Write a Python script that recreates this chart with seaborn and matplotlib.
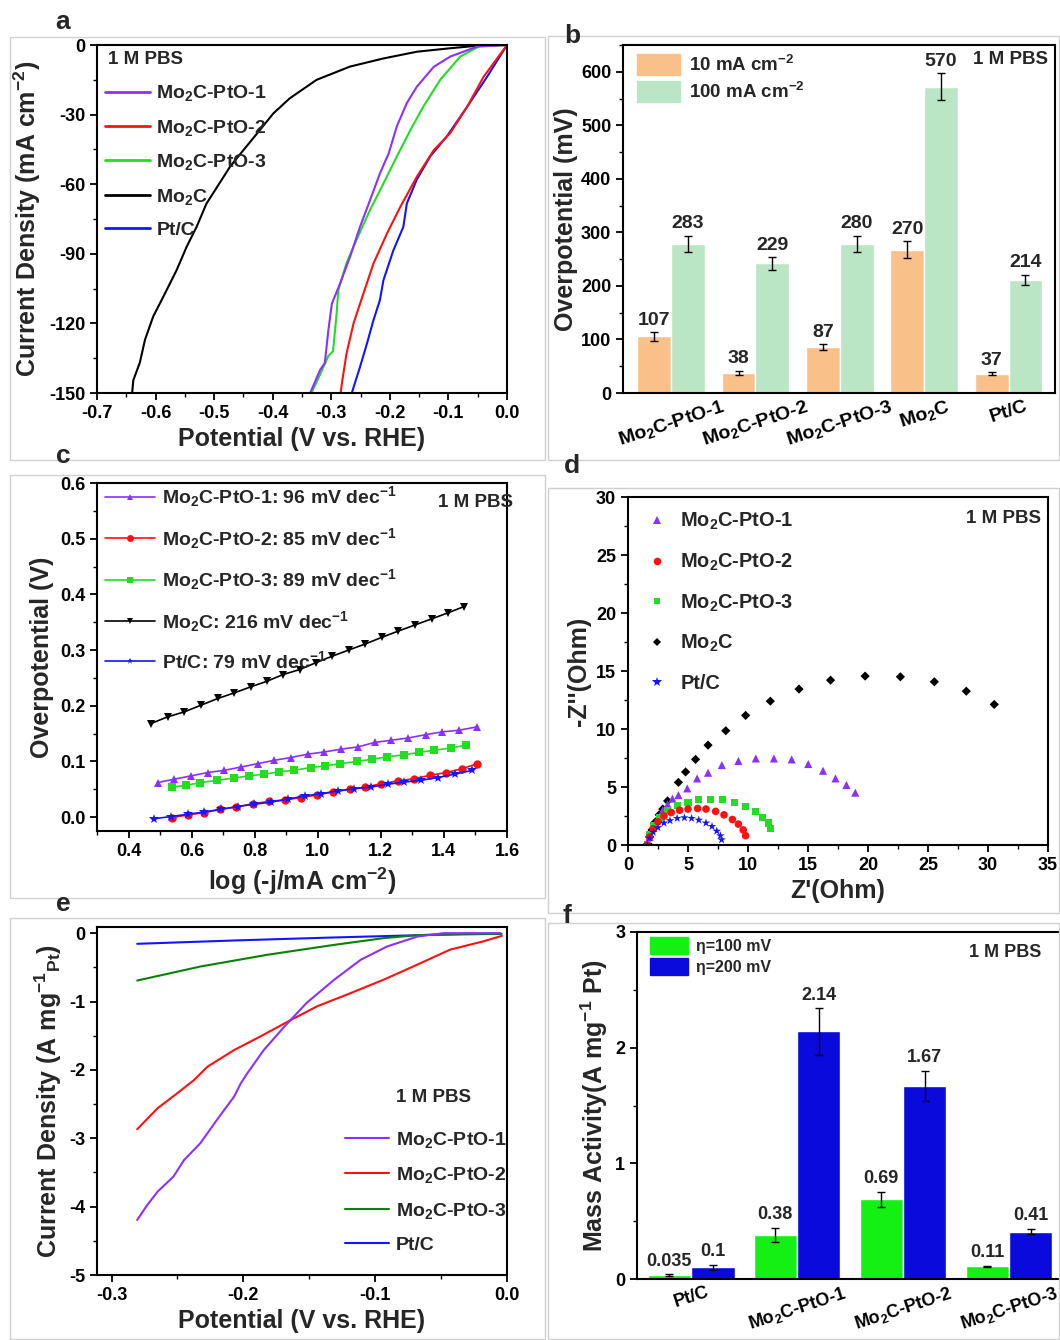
import matplotlib
matplotlib.use("Agg")
import pandas as pd
import matplotlib.pyplot as plt
import seaborn as sns
from matplotlib.lines import Line2D
from matplotlib.patches import Patch, Rectangle
from matplotlib.ticker import MultipleLocator

# %% [Data]
# (a) LSV, current density in mA cm-2
a_mo2c_v = [0.0, -0.05, -0.097, -0.154, -0.211, -0.268, -0.325, -0.371, -0.399, -0.422, -0.450, -0.473,
            -0.502, -0.513, -0.530, -0.547, -0.564, -0.587, -0.604, -0.618, -0.627, -0.638, -0.640]
a_mo2c_j = [0.0, -0.3, -1.4, -2.9, -5.8, -9.3, -15.0, -23.0, -29.5, -36.7, -45.3, -52.5,
            -64.0, -68.3, -78.4, -87.0, -97.0, -108.6, -117.0, -127.0, -137.0, -144.5, -150.0]
a_pto1_v = [0.0, -0.051, -0.097, -0.125, -0.154, -0.171, -0.188, -0.202, -0.217, -0.234, -0.251, -0.268,
            -0.285, -0.299, -0.305, -0.311, -0.319, -0.336]
a_pto1_j = [0.0, -0.7, -5.0, -9.4, -18.0, -25.0, -35.0, -46.7, -55.4, -67.0, -78.4, -91.3,
            -102.8, -111.5, -123.0, -137.0, -140.0, -150.0]
a_pto3_v = [0.0, -0.046, -0.080, -0.114, -0.143, -0.165, -0.188, -0.211, -0.234, -0.257, -0.274, -0.288,
            -0.291, -0.297, -0.305, -0.319, -0.334]
a_pto3_j = [0.0, -0.4, -5.0, -15.0, -26.6, -36.7, -48.0, -59.7, -71.2, -84.0, -94.0, -105.7,
            -116.0, -132.0, -134.0, -142.0, -150.0]
a_pto2_v = [0.0, -0.040, -0.068, -0.097, -0.125, -0.154, -0.182, -0.205, -0.228, -0.245, -0.262, -0.274,
            -0.282, -0.284]
a_pto2_j = [0.0, -13.7, -26.6, -38.0, -45.3, -56.8, -69.7, -81.3, -94.2, -107.0, -120.0, -133.0,
            -146.0, -150.0]
a_ptc_v = [0.0, -0.034, -0.068, -0.103, -0.131, -0.154, -0.171, -0.177, -0.194, -0.211, -0.217, -0.228,
           -0.239, -0.251, -0.265]
a_ptc_j = [0.0, -13.7, -26.6, -39.5, -48.0, -58.0, -68.3, -78.4, -88.5, -101.4, -110.0, -118.6,
           -128.6, -138.8, -150.0]

# (b) overpotentials (mV)
b_samples = ['Mo$_2$C-PtO-1', 'Mo$_2$C-PtO-2', 'Mo$_2$C-PtO-3', 'Mo$_2$C', 'Pt/C']
b_eta10 = [106, 38, 86, 268, 36]
b_eta10_err = [8, 4, 5, 15, 3]
b_eta10_text = ['107', '38', '87', '270', '37']
b_eta100 = [279, 242, 279, 572, 211]
b_eta100_err = [15, 12, 15, 25, 10]
b_eta100_text = ['283', '229', '280', '570', '214']

# (c) Tafel
c_pto1_x = [0.492, 0.545, 0.598, 0.651, 0.704, 0.757, 0.810, 0.862, 0.915, 0.968, 1.021, 1.074, 1.127,
            1.180, 1.233, 1.286, 1.342, 1.395, 1.448, 1.504]
c_pto1_y = [0.062, 0.068, 0.074, 0.080, 0.084, 0.090, 0.096, 0.102, 0.107, 0.113, 0.117, 0.122, 0.126,
            0.134, 0.138, 0.142, 0.148, 0.153, 0.156, 0.162]
c_pto2_x = [0.538, 0.588, 0.640, 0.691, 0.742, 0.794, 0.844, 0.895, 0.947, 0.998, 1.049, 1.101, 1.151,
            1.202, 1.254, 1.305, 1.356, 1.407, 1.458, 1.506]
c_pto2_y = [-0.001, 0.004, 0.008, 0.014, 0.018, 0.024, 0.028, 0.031, 0.035, 0.040, 0.045, 0.050, 0.054,
            0.060, 0.065, 0.069, 0.075, 0.080, 0.087, 0.096]
c_pto3_x = [0.538, 0.582, 0.628, 0.680, 0.733, 0.781, 0.829, 0.876, 0.924, 0.977, 1.024, 1.072, 1.125,
            1.172, 1.220, 1.273, 1.321, 1.368, 1.421, 1.469]
c_pto3_y = [0.054, 0.057, 0.062, 0.066, 0.070, 0.074, 0.077, 0.081, 0.084, 0.089, 0.092, 0.096, 0.100,
            0.104, 0.108, 0.112, 0.116, 0.120, 0.124, 0.129]
c_mo2c_x = [0.471, 0.524, 0.577, 0.630, 0.683, 0.735, 0.788, 0.839, 0.890, 0.943, 0.993, 1.046, 1.098,
            1.151, 1.204, 1.255, 1.308, 1.361, 1.414, 1.463]
c_mo2c_y = [0.168, 0.180, 0.189, 0.201, 0.213, 0.223, 0.234, 0.244, 0.256, 0.265, 0.277, 0.289, 0.300,
            0.311, 0.323, 0.334, 0.345, 0.356, 0.367, 0.378]
c_ptc_x = [0.481, 0.534, 0.587, 0.640, 0.693, 0.746, 0.799, 0.852, 0.905, 0.958, 1.011, 1.063, 1.116,
           1.169, 1.222, 1.275, 1.328, 1.381, 1.434, 1.490]
c_ptc_y = [-0.003, 0.001, 0.005, 0.009, 0.014, 0.019, 0.023, 0.027, 0.032, 0.038, 0.042, 0.047, 0.051,
           0.054, 0.059, 0.063, 0.066, 0.071, 0.077, 0.084]

# (d) Nyquist (Ohm)
d_mo2c_x = [1.65, 1.8, 2.0, 2.3, 2.6, 2.9, 3.3, 4.2, 4.8, 5.63, 6.67, 8.15, 9.80, 11.86, 14.25, 16.88,
            19.76, 22.70, 25.53, 28.19, 30.52]
d_mo2c_y = [0.1, 0.7, 1.3, 2.0, 2.6, 3.1, 3.8, 5.4, 6.3, 7.38, 8.61, 9.85, 11.17, 12.40, 13.44, 14.21,
            14.56, 14.50, 14.07, 13.26, 12.12]
d_pto1_x = [1.6, 1.8, 2.1, 2.5, 2.9, 3.3, 3.7, 4.2, 4.94, 5.76, 6.67, 7.82, 9.20, 10.65, 12.16, 13.64,
            15.02, 16.25, 17.29, 18.20, 18.94]
d_pto1_y = [0.0, 0.7, 1.5, 2.3, 3.0, 3.5, 4.0, 4.3, 4.88, 5.74, 6.23, 6.89, 7.24, 7.46, 7.46, 7.38,
            6.98, 6.40, 5.74, 5.17, 4.51]
d_pto3_x = [1.6, 1.8, 2.1, 2.6, 3.3, 4.1, 5.0, 5.9, 6.9, 7.9, 8.9, 9.8, 10.6, 11.2, 11.7, 11.9]
d_pto3_y = [0.0, 0.9, 1.7, 2.4, 3.0, 3.4, 3.7, 3.9, 3.95, 3.9, 3.7, 3.3, 2.9, 2.4, 1.9, 1.4]
d_pto2_x = [1.6, 1.8, 2.1, 2.5, 3.0, 3.6, 4.3, 5.0, 5.8, 6.5, 7.3, 8.0, 8.7, 9.2, 9.6, 9.8]
d_pto2_y = [0.0, 0.7, 1.4, 2.0, 2.5, 2.8, 3.0, 3.1, 3.15, 3.1, 2.9, 2.6, 2.2, 1.8, 1.3, 0.8]
d_ptc_x = [1.6, 1.8, 2.1, 2.5, 3.0, 3.5, 4.1, 4.7, 5.3, 5.9, 6.5, 7.0, 7.4, 7.7, 7.8]
d_ptc_y = [0.0, 0.6, 1.1, 1.5, 1.9, 2.1, 2.3, 2.35, 2.3, 2.15, 1.9, 1.6, 1.2, 0.8, 0.45]

# (e) mass-normalised LSV (A mg-1 Pt)
e_ptc_v = [-0.2805, -0.207, -0.131, -0.056, -0.005]
e_ptc_j = [-0.156, -0.107, -0.063, -0.024, -0.01]
e_pto3_v = [-0.2805, -0.2325, -0.182, -0.131, -0.0935, -0.068, -0.030, -0.004]
e_pto3_j = [-0.693, -0.488, -0.317, -0.171, -0.073, -0.029, -0.01, -0.01]
e_pto2_v = [-0.2805, -0.265, -0.250, -0.2375, -0.227, -0.207, -0.187, -0.164, -0.144, -0.119, -0.0935,
            -0.068, -0.043, -0.018, -0.004]
e_pto2_j = [-2.868, -2.56, -2.34, -2.15, -1.95, -1.71, -1.51, -1.27, -1.07, -0.88, -0.68, -0.46, -0.24,
            -0.12, -0.04]
e_pto1_v = [-0.2805, -0.273, -0.265, -0.253, -0.245, -0.2325, -0.220, -0.207, -0.202, -0.197, -0.1845,
            -0.169, -0.152, -0.131, -0.111, -0.091, -0.068, -0.048, -0.005]
e_pto1_j = [-4.195, -3.98, -3.78, -3.56, -3.32, -3.07, -2.73, -2.39, -2.20, -2.05, -1.71, -1.37, -1.02,
            -0.68, -0.39, -0.195, -0.05, 0.0, 0.0]

# (f) mass activity
f_samples = ['Pt/C', 'Mo$_2$C-PtO-1', 'Mo$_2$C-PtO-2', 'Mo$_2$C-PtO-3']
f_eta100 = [0.035, 0.38, 0.69, 0.11]
f_eta100_err = [0.005, 0.06, 0.065, 0.005]
f_eta100_text = ['0.035', '0.38', '0.69', '0.11']
f_eta200 = [0.1, 2.14, 1.67, 0.41]
f_eta200_err = [0.02, 0.2, 0.13, 0.025]
f_eta200_text = ['0.1', '2.14', '1.67', '0.41']

# %% [Style]
sns.set_style("ticks")
plt.rcParams.update({
    'font.family': ['Liberation Sans', 'DejaVu Sans'],
    'font.weight': 'bold',
    'axes.labelweight': 'bold',
    'axes.unicode_minus': False,
    'mathtext.fontset': 'custom',
    'mathtext.rm': 'Liberation Sans:bold',
    'mathtext.it': 'Liberation Sans:bold:italic',
    'mathtext.bf': 'Liberation Sans:bold',
    'mathtext.default': 'rm',
    'axes.linewidth': 1.5,
    'axes.edgecolor': 'black',
    'xtick.major.width': 1.3, 'ytick.major.width': 1.3,
    'xtick.minor.width': 1.0, 'ytick.minor.width': 1.0,
    'xtick.major.size': 5, 'ytick.major.size': 5,
    'xtick.minor.size': 3, 'ytick.minor.size': 3,
    'xtick.color': 'black', 'ytick.color': 'black',
    'xtick.labelsize': 13, 'ytick.labelsize': 13,
})

PURPLE = '#8B30FF'
RED = '#FF1010'
GREEN = '#22DD22'
DKGREEN = '#0A800A'
BLACK = '#000000'
BLUE = '#1414FF'

W, H = 1060, 1340
fig = plt.figure(figsize=(W / 100, H / 100), dpi=100)


def px_axes(l, t, r, b):
    return fig.add_axes([l / W, 1 - b / H, (r - l) / W, (b - t) / H])


# light panel frames
for (l, t, r, b) in [(10, 37, 545, 460), (548, 36, 1059, 460), (10, 475, 545, 898),
                     (548, 488, 1059, 913), (10, 918, 545, 1339), (548, 923, 1059, 1339)]:
    fig.add_artist(Rectangle((l / W, 1 - b / H), (r - l) / W, (b - t) / H, transform=fig.transFigure,
                             fill=False, edgecolor='#d0d0d0', lw=1))

for letter, (x, y) in zip('abcdef', [(63, 22), (572, 36), (63, 456), (572, 466), (63, 904), (567, 916)]):
    fig.text(x / W, 1 - y / H, letter, fontsize=19, fontweight='bold', ha='center', va='center')

LBL = 18
LEG = 14

# %% [a: LSV]
ax = px_axes(97, 45, 507, 393)
for v, j, c in [(a_mo2c_v, a_mo2c_j, BLACK), (a_pto3_v, a_pto3_j, GREEN), (a_pto1_v, a_pto1_j, PURPLE),
                (a_ptc_v, a_ptc_j, BLUE), (a_pto2_v, a_pto2_j, RED)]:
    sns.lineplot(x=v, y=j, sort=False, estimator=None, color=c, lw=1.5, ax=ax)
ax.set_xlim(-0.7, 0.0)
ax.set_ylim(-150, 0)
ax.xaxis.set_major_locator(MultipleLocator(0.1))
ax.xaxis.set_minor_locator(MultipleLocator(0.05))
ax.yaxis.set_major_locator(MultipleLocator(30))
ax.yaxis.set_minor_locator(MultipleLocator(15))
ax.set_xlabel('Potential (V vs. RHE)', fontsize=LBL)
ax.set_ylabel('Current Density (mA cm$^{-2}$)', fontsize=LBL)
ax.text(0.027, 0.957, '1 M PBS', transform=ax.transAxes, fontsize=13.5, va='center')
handles = [Line2D([], [], color=c, lw=2) for c in [PURPLE, RED, GREEN, BLACK, BLUE]]
ax.legend(handles, b_samples, loc='upper left', bbox_to_anchor=(0.0, 0.912), frameon=False,
          fontsize=LEG, handlelength=2.3, handletextpad=0.35, labelspacing=0.74, borderaxespad=0)

# %% [b: overpotential bars]
ax = px_axes(623, 45, 1055, 393)
df_b = pd.DataFrame({
    'sample': b_samples * 2,
    'value': b_eta10 + b_eta100,
    'current': ['10'] * len(b_samples) + ['100'] * len(b_samples),
})
ORANGE_B, GREEN_B = '#F9C08A', '#BBE6C6'
sns.barplot(data=df_b, x='sample', y='value', hue='current', palette=[ORANGE_B, GREEN_B], width=0.8,
            errorbar=None, saturation=1, legend=False, ax=ax)
for cont, errs, texts in [(ax.containers[0], b_eta10_err, b_eta10_text),
                          (ax.containers[1], b_eta100_err, b_eta100_text)]:
    for bar, e, t in zip(cont, errs, texts):
        cx = bar.get_x() + bar.get_width() / 2
        h = bar.get_height()
        ax.errorbar(cx, h, yerr=e, color='black', lw=1, capsize=3, capthick=1)
        ax.text(cx, h + e + 6, t, ha='center', va='bottom', fontsize=14)
ax.set_xlim(-0.57, 4.55)
ax.set_ylim(0, 650)
ax.yaxis.set_major_locator(MultipleLocator(100))
ax.yaxis.set_minor_locator(MultipleLocator(50))
ax.set_xlabel('')
ax.set_ylabel('Overpotential (mV)', fontsize=LBL, labelpad=2)
ax.tick_params(axis='x', length=0, pad=3)
plt.setp(ax.get_xticklabels(), rotation=18, ha='center', fontsize=14)
ax.text(0.896, 0.957, '1 M PBS', transform=ax.transAxes, fontsize=13.5, ha='center', va='center')
ax.legend([Patch(color=ORANGE_B), Patch(color=GREEN_B)], ['10 mA cm$^{-2}$', '100 mA cm$^{-2}$'],
          loc='upper left', bbox_to_anchor=(0.015, 0.995), frameon=False, fontsize=13.5,
          handlelength=2.3, handleheight=1.3, handletextpad=0.45, labelspacing=0.35, borderaxespad=0)

# %% [c: Tafel]
ax = px_axes(97, 483, 507, 831)
c_series = [(c_pto1_x, c_pto1_y, PURPLE, '^', 'Mo$_2$C-PtO-1: 96 mV dec$^{-1}$'),
            (c_pto2_x, c_pto2_y, RED, 'o', 'Mo$_2$C-PtO-2: 85 mV dec$^{-1}$'),
            (c_pto3_x, c_pto3_y, GREEN, 's', 'Mo$_2$C-PtO-3: 89 mV dec$^{-1}$'),
            (c_mo2c_x, c_mo2c_y, BLACK, 'v', 'Mo$_2$C: 216 mV dec$^{-1}$'),
            (c_ptc_x, c_ptc_y, BLUE, '*', 'Pt/C: 79 mV dec$^{-1}$')]
for x, y, c, m, _ in c_series:
    sns.lineplot(x=x, y=y, sort=False, estimator=None, color=c, lw=1.2, marker=m,
                 markersize=6 if m != '*' else 7, markeredgewidth=0, ax=ax)
ax.set_xlim(0.3, 1.6)
ax.set_ylim(-0.025, 0.6)
ax.xaxis.set_major_locator(MultipleLocator(0.2))
ax.xaxis.set_minor_locator(MultipleLocator(0.1))
ax.yaxis.set_major_locator(MultipleLocator(0.1))
ax.yaxis.set_minor_locator(MultipleLocator(0.05))
ax.set_xlabel('log (-j/mA cm$^{-2}$)', fontsize=LBL)
ax.set_ylabel('Overpotential (V)', fontsize=LBL)
ax.text(0.924, 0.945, '1 M PBS', transform=ax.transAxes, fontsize=13.5, ha='center', va='center')
handles = [Line2D([], [], color=c, lw=1.2, marker=m, markersize=5, markeredgewidth=0)
           for _, _, c, m, _ in c_series]
ax.legend(handles, [s[4] for s in c_series], loc='upper left', bbox_to_anchor=(0.0, 1.018),
          frameon=False, fontsize=LEG, handlelength=2.6, handletextpad=0.35, labelspacing=0.85,
          borderaxespad=0)

# %% [d: Nyquist]
ax = px_axes(628, 497, 1048, 845)
d_series = [(d_mo2c_x, d_mo2c_y, BLACK, 'D', 22), (d_pto1_x, d_pto1_y, PURPLE, '^', 34),
            (d_pto3_x, d_pto3_y, GREEN, 's', 26), (d_pto2_x, d_pto2_y, RED, 'o', 30),
            (d_ptc_x, d_ptc_y, BLUE, '*', 42)]
for x, y, c, m, s in d_series:
    sns.scatterplot(x=x, y=y, color=c, marker=m, s=s, edgecolor='none', legend=False, ax=ax)
ax.set_xlim(0, 35)
ax.set_ylim(0, 30)
ax.xaxis.set_major_locator(MultipleLocator(5))
ax.xaxis.set_minor_locator(MultipleLocator(2.5))
ax.yaxis.set_major_locator(MultipleLocator(5))
ax.yaxis.set_minor_locator(MultipleLocator(2.5))
ax.set_xlabel("Z'(Ohm)", fontsize=LBL)
ax.set_ylabel("-Z''(Ohm)", fontsize=LBL)
ax.text(0.895, 0.937, '1 M PBS', transform=ax.transAxes, fontsize=13.5, ha='center', va='center')
handles = [Line2D([], [], ls='none', color=c, marker=m, markersize=ms, markeredgewidth=0)
           for c, m, ms in [(PURPLE, '^', 6), (RED, 'o', 5.5), (GREEN, 's', 5), (BLACK, 'D', 4.5),
                            (BLUE, '*', 7)]]
ax.legend(handles, b_samples, loc='upper left', bbox_to_anchor=(0.015, 0.983), frameon=False,
          fontsize=14.4, handlelength=1.5, handletextpad=0.4, labelspacing=0.97, borderaxespad=0)

# %% [e: mass-normalised LSV]
ax = px_axes(97, 927, 507, 1275)
e_series = [(e_ptc_v, e_ptc_j, BLUE), (e_pto3_v, e_pto3_j, DKGREEN), (e_pto2_v, e_pto2_j, RED),
            (e_pto1_v, e_pto1_j, PURPLE)]
for v, j, c in e_series:
    sns.lineplot(x=v, y=j, sort=False, estimator=None, color=c, lw=1.5, ax=ax)
ax.set_xlim(-0.311, 0.0)
ax.set_ylim(-5, 0.09)
ax.xaxis.set_major_locator(MultipleLocator(0.1))
ax.xaxis.set_minor_locator(MultipleLocator(0.05))
ax.yaxis.set_major_locator(MultipleLocator(1))
ax.yaxis.set_minor_locator(MultipleLocator(0.5))
ax.set_xlabel('Potential (V vs. RHE)', fontsize=LBL)
ax.set_ylabel('Current Density (A mg$^{-1}$$_{Pt}$)', fontsize=LBL)
ax.text(0.82, 0.511, '1 M PBS', transform=ax.transAxes, fontsize=13.5, ha='center', va='center')
handles = [Line2D([], [], color=c, lw=1.5) for c in [PURPLE, RED, DKGREEN, BLUE]]
ax.legend(handles, ['Mo$_2$C-PtO-1', 'Mo$_2$C-PtO-2', 'Mo$_2$C-PtO-3', 'Pt/C'], loc='upper left',
          bbox_to_anchor=(0.585, 0.44), frameon=False, fontsize=LEG, handlelength=2.3,
          handletextpad=0.35, labelspacing=0.8, borderaxespad=0)

# %% [f: mass activity bars]
ax = px_axes(637, 932, 1062, 1279)
df_f = pd.DataFrame({
    'sample': f_samples * 2,
    'value': f_eta100 + f_eta200,
    'eta': ['100'] * len(f_samples) + ['200'] * len(f_samples),
})
GREEN_F, BLUE_F = '#14F014', '#0A0ADC'
sns.barplot(data=df_f, x='sample', y='value', hue='eta', palette=[GREEN_F, BLUE_F], width=0.82,
            errorbar=None, saturation=1, legend=False, ax=ax)
for cont, errs, texts in [(ax.containers[0], f_eta100_err, f_eta100_text),
                          (ax.containers[1], f_eta200_err, f_eta200_text)]:
    for bar, e, t in zip(cont, errs, texts):
        cx = bar.get_x() + bar.get_width() / 2
        h = bar.get_height()
        ax.errorbar(cx, h, yerr=e, color='black', lw=1, capsize=3, capthick=1)
        ax.text(cx, h + e + 0.04, t, ha='center', va='bottom', fontsize=13)
ax.set_xlim(-0.51, 3.5)
ax.set_ylim(0, 3)
ax.yaxis.set_major_locator(MultipleLocator(1))
ax.yaxis.set_minor_locator(MultipleLocator(0.5))
ax.set_xlabel('')
ax.set_ylabel('Mass Activity(A mg$^{-1}$ Pt)', fontsize=LBL)
ax.tick_params(axis='x', length=0, pad=3)
plt.setp(ax.get_xticklabels(), rotation=18, ha='center', fontsize=13)
ax.text(0.866, 0.942, '1 M PBS', transform=ax.transAxes, fontsize=13, ha='center', va='center')
ax.legend([Patch(color=GREEN_F), Patch(color=BLUE_F)], ['η=100 mV', 'η=200 mV'],
          loc='upper left', bbox_to_anchor=(0.015, 1.005), frameon=False, fontsize=11.5,
          handlelength=2.4, handleheight=1.3, handletextpad=0.5, labelspacing=0.25, borderaxespad=0)

fig.savefig('out.png', dpi=100)
